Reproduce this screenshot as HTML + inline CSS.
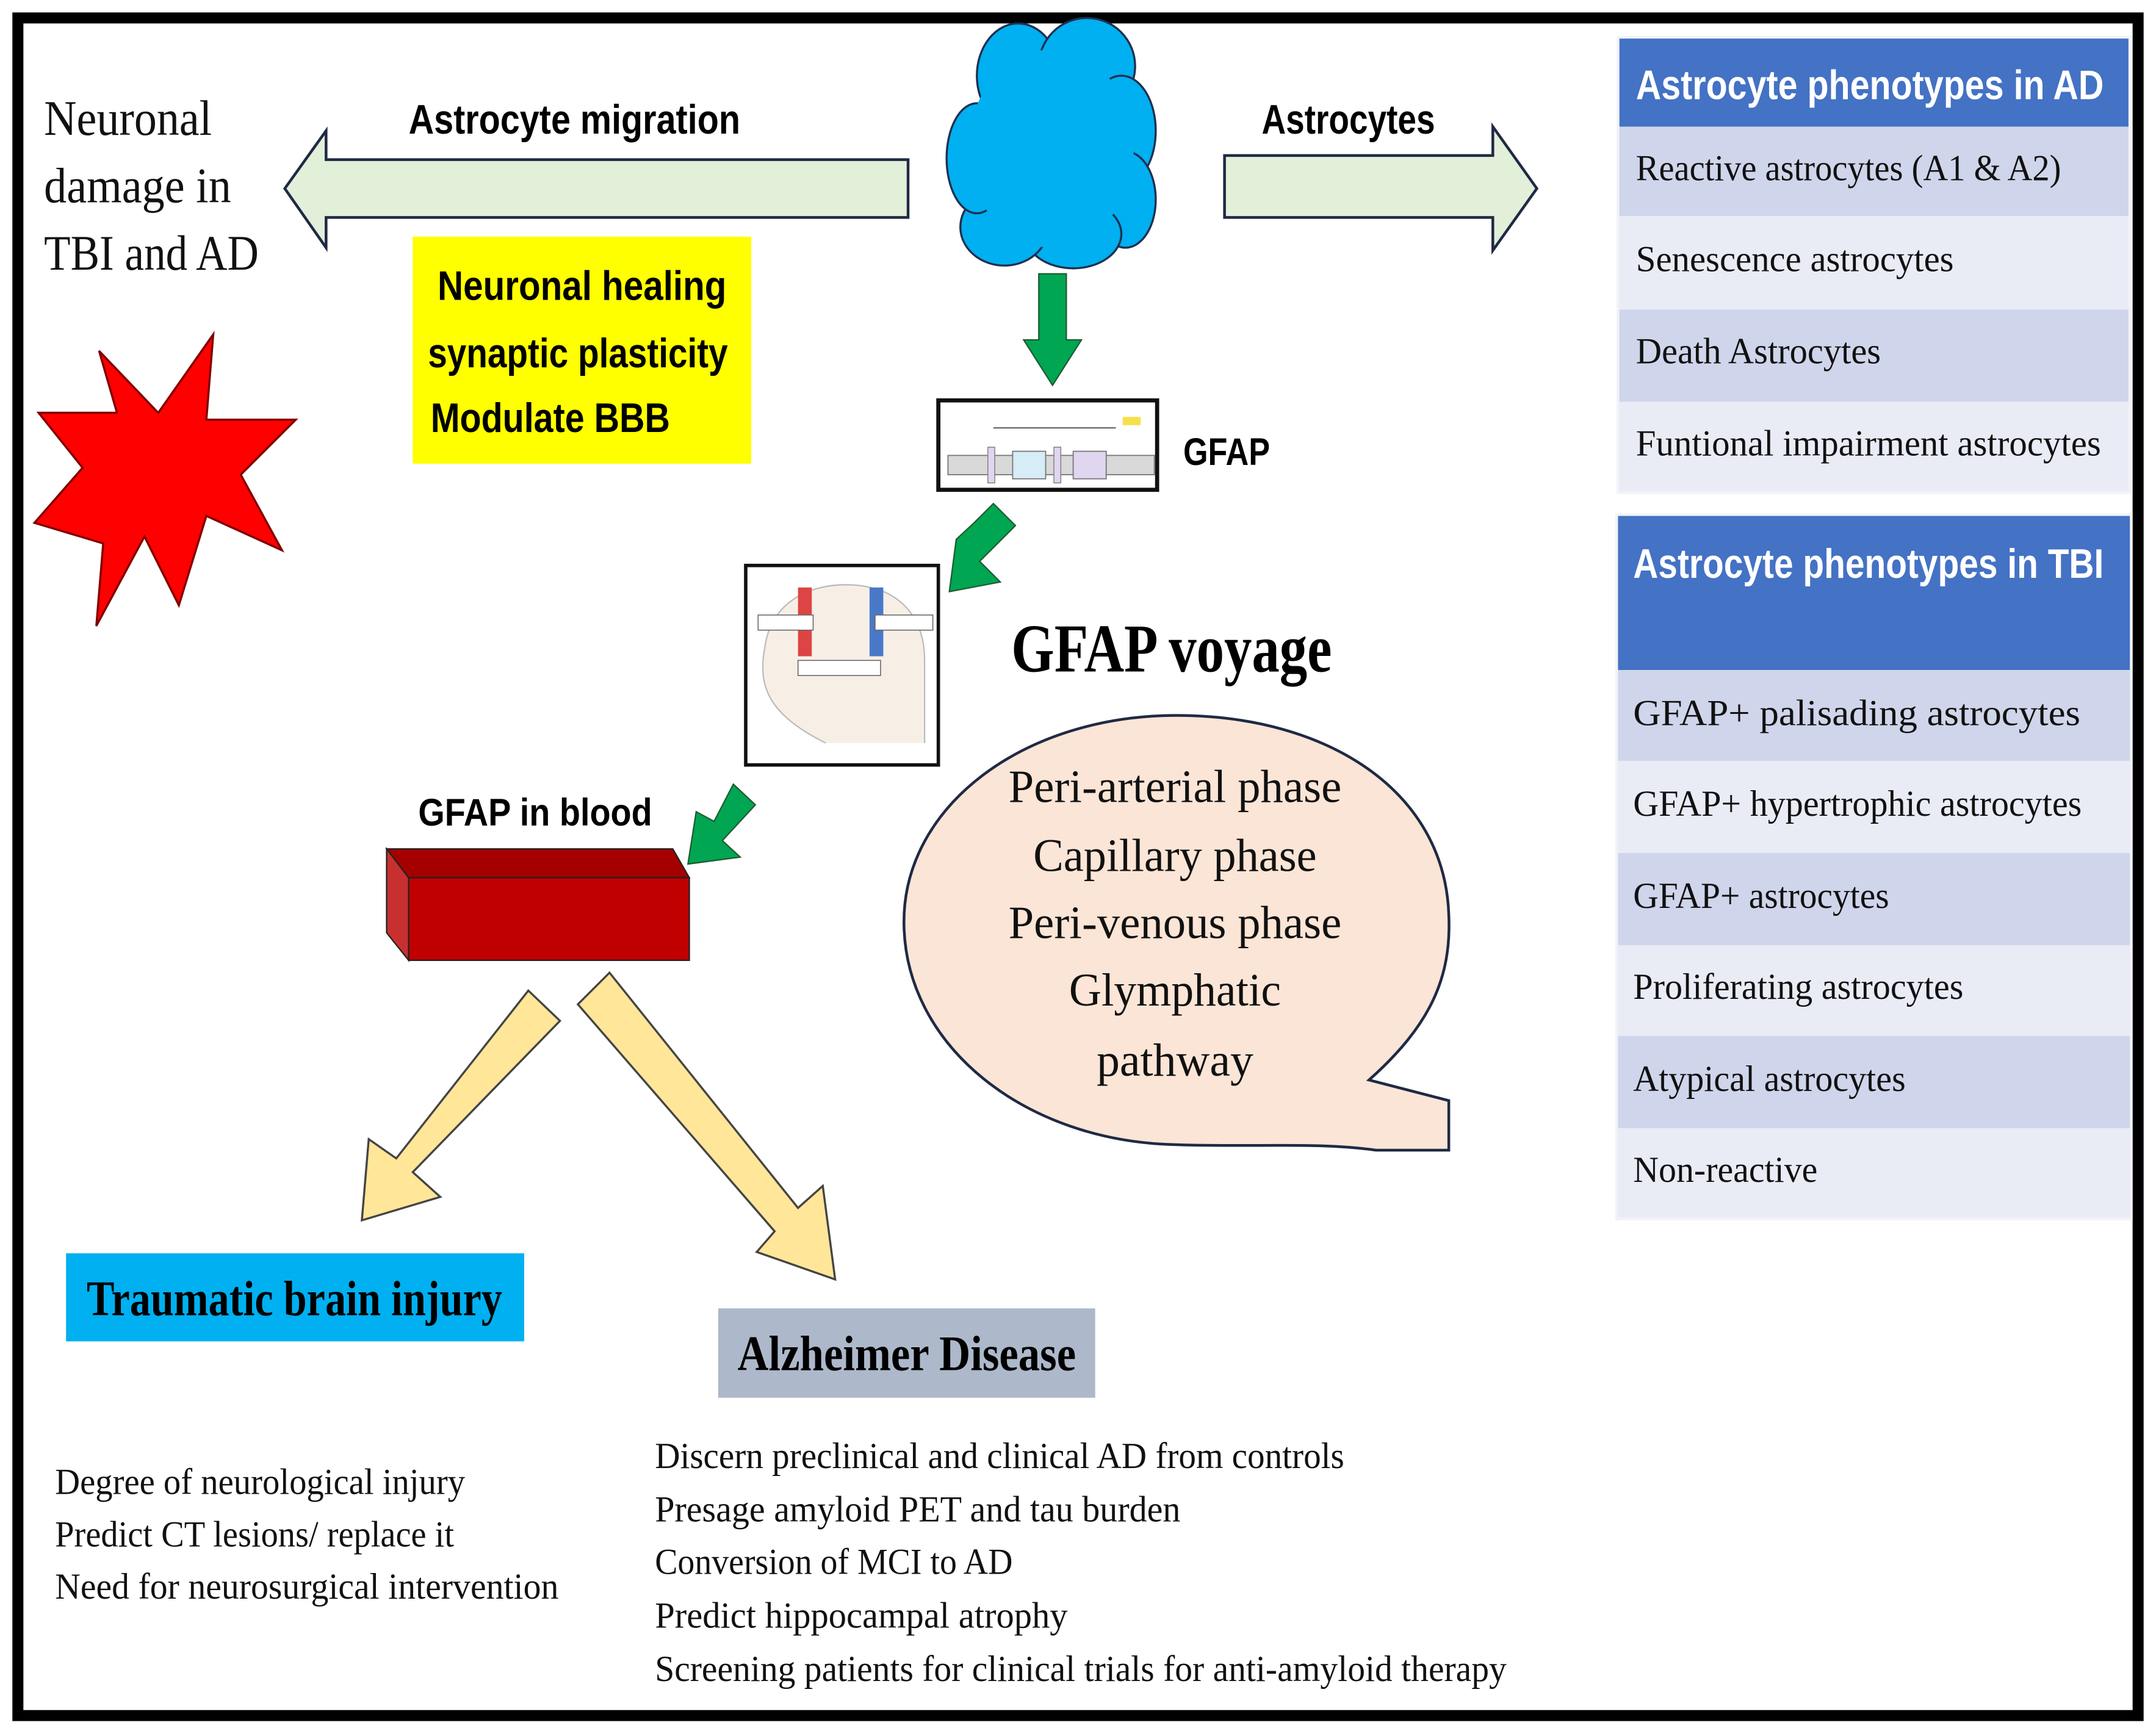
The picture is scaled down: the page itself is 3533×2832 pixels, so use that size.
<!DOCTYPE html>
<html><head><meta charset="utf-8"><style>
html,body{margin:0;padding:0;background:#fff;}
svg{display:block;}
text{font-family:"Liberation Serif",serif;}
.s{font-family:"Liberation Sans",sans-serif;font-weight:bold;}
</style></head><body>
<svg width="3533" height="2832" viewBox="0 0 1567 1256" xmlns="http://www.w3.org/2000/svg">
<rect x="0" y="0" width="1567" height="1256" fill="#fff"/>
<rect x="13" y="13" width="1541" height="1234" fill="none" stroke="#000" stroke-width="8"/>

<!-- left text -->
<g font-size="36" fill="#111">
<text x="32" y="98" textLength="122" lengthAdjust="spacingAndGlyphs">Neuronal</text>
<text x="32" y="147" textLength="136" lengthAdjust="spacingAndGlyphs">damage in</text>
<text x="32" y="196" textLength="156" lengthAdjust="spacingAndGlyphs">TBI and AD</text>
</g>

<!-- star -->
<polygon fill="#ff0000" stroke="#7f0000" stroke-width="1.5" points="155,243 150,305 215,305 175,345 205,400 150,375 130,440 105,390 70,455 75,395 25,380 60,340 28,300 85,300 72,255 115,300"/>

<!-- left arrow -->
<polygon fill="#e2efd9" stroke="#1f2a44" stroke-width="2" points="660,116 237,116 237,95 207,137 237,180 237,158 660,158"/>
<text class="s" x="297" y="97" font-size="30" textLength="241" lengthAdjust="spacingAndGlyphs">Astrocyte migration</text>

<!-- yellow box -->
<rect x="300" y="172" width="246" height="165" fill="#ffff00"/>
<g class="s" font-size="30" text-anchor="middle">
<text x="423" y="218" class="s" textLength="210" lengthAdjust="spacingAndGlyphs">Neuronal healing</text>
<text x="420" y="267" class="s" textLength="218" lengthAdjust="spacingAndGlyphs">synaptic plasticity</text>
<text x="400" y="314" class="s" textLength="174" lengthAdjust="spacingAndGlyphs">Modulate BBB</text>
</g>

<!-- cloud -->
<g fill="#00b0f0" stroke="#1f3050" stroke-width="1.5">
<ellipse cx="740" cy="55" rx="30" ry="38"/>
<ellipse cx="790" cy="48" rx="35" ry="35"/>
<ellipse cx="815" cy="95" rx="25" ry="40"/>
<ellipse cx="818" cy="145" rx="22" ry="35"/>
<ellipse cx="780" cy="170" rx="35" ry="25"/>
<ellipse cx="730" cy="165" rx="32" ry="28"/>
<ellipse cx="710" cy="115" rx="22" ry="40"/>
</g>
<ellipse cx="764" cy="108" rx="60" ry="72" fill="#00b0f0"/>

<!-- right arrow -->
<polygon fill="#e2efd9" stroke="#1f2a44" stroke-width="2" points="890,113 1085,113 1085,92 1117,137 1085,182 1085,158 890,158"/>
<text class="s" x="917" y="97" font-size="30" textLength="126" lengthAdjust="spacingAndGlyphs">Astrocytes</text>

<!-- green arrows -->
<polygon fill="#00a651" stroke="#1e5a30" stroke-width="1" points="755,199 775,199 775,247 786,247 765,280 744,247 755,247"/>
<polygon fill="#00a651" stroke="#1e5a30" stroke-width="1" points="722,366 738,382 712,408 727,423 690,430 695,392 708,380"/>
<polygon fill="#00a651" stroke="#1e5a30" stroke-width="1" points="533,570 549,585 525,611 538,623 500,628 506,590 519,597"/>

<!-- gene box -->
<rect x="682" y="291" width="159" height="65" fill="#fff" stroke="#111" stroke-width="3"/>
<line x1="722" y1="311" x2="811" y2="311" stroke="#666" stroke-width="1"/>
<rect x="836" y="303" width="13" height="6" fill="#f5e04a" transform="translate(-20,0)"/>
<rect x="689" y="331" width="150" height="14" fill="#d9d9d9" stroke="#777" stroke-width="0.8"/>
<rect x="736" y="328" width="24" height="20" fill="#d6ecf7" stroke="#777" stroke-width="0.8"/>
<rect x="780" y="328" width="24" height="20" fill="#e0d6f0" stroke="#777" stroke-width="0.8"/>
<rect x="718" y="325" width="5" height="26" fill="#e0d6f0" stroke="#777" stroke-width="0.6"/>
<rect x="766" y="325" width="5" height="26" fill="#e0d6f0" stroke="#777" stroke-width="0.6"/>
<text class="s" x="860" y="338" font-size="28" textLength="63" lengthAdjust="spacingAndGlyphs">GFAP</text>

<!-- head image -->
<rect x="542" y="411" width="140" height="145" fill="#fff" stroke="#111" stroke-width="2.5"/>
<path d="M600,540 C560,520 550,500 556,470 C560,440 585,425 615,425 C650,425 672,445 672,480 L672,540" fill="#f7efe6" stroke="#bbb" stroke-width="1"/>
<rect x="580" y="427" width="10" height="50" fill="#d44"/>
<rect x="632" y="427" width="10" height="50" fill="#4a78c8"/>
<rect x="551" y="447" width="40" height="11" fill="#fff" stroke="#666" stroke-width="0.7"/>
<rect x="636" y="447" width="42" height="11" fill="#fff" stroke="#666" stroke-width="0.7"/>
<rect x="580" y="480" width="60" height="11" fill="#fff" stroke="#666" stroke-width="0.7"/>

<!-- GFAP voyage -->
<text x="735" y="488" font-size="50" font-weight="bold" textLength="233" lengthAdjust="spacingAndGlyphs">GFAP voyage</text>

<!-- speech bubble -->
<path d="M1053,836 L1053,800 L995,785 C1040,745 1055,710 1053,665 C1050,575 965,520 855,520 C745,520 657,585 657,670 C657,760 745,830 855,832 C915,834 955,830 1000,836 Z" fill="#fbe5d6" stroke="#1f2a44" stroke-width="2"/>
<g font-size="34" text-anchor="middle" fill="#111">
<text x="854" y="583" textLength="242" lengthAdjust="spacingAndGlyphs">Peri-arterial phase</text>
<text x="854" y="633" textLength="206" lengthAdjust="spacingAndGlyphs">Capillary phase</text>
<text x="854" y="682" textLength="242" lengthAdjust="spacingAndGlyphs">Peri-venous phase</text>
<text x="854" y="731" textLength="154" lengthAdjust="spacingAndGlyphs">Glymphatic</text>
<text x="854" y="782" textLength="114" lengthAdjust="spacingAndGlyphs">pathway</text>
</g>

<!-- GFAP in blood -->
<text class="s" x="304" y="600" font-size="28" textLength="170" lengthAdjust="spacingAndGlyphs">GFAP in blood</text>
<polygon points="281,617 489,617 501,638 297,638" fill="#a50000" stroke="#222" stroke-width="1"/>
<polygon points="281,617 297,638 297,698 281,678" fill="#c83030" stroke="#222" stroke-width="1"/>
<rect x="297" y="638" width="204" height="60" fill="#c00000" stroke="#222" stroke-width="1"/>

<!-- yellow arrows -->
<polygon fill="#ffe699" stroke="#444" stroke-width="1.5" points="384,720 407,742 300,852 320,870 263,887 268,828 288,842"/>
<polygon fill="#ffe699" stroke="#444" stroke-width="1.5" points="420,730 443,707 580,878 598,862 607,930 550,910 563,895"/>

<!-- TBI box -->
<rect x="48" y="911" width="333" height="64" fill="#00b0f0"/>
<text x="214" y="956" font-size="36" font-weight="bold" text-anchor="middle" textLength="302" lengthAdjust="spacingAndGlyphs">Traumatic brain injury</text>
<rect x="522" y="951" width="274" height="65" fill="#adb9ca"/>
<text x="659" y="996" font-size="36" font-weight="bold" text-anchor="middle" textLength="246" lengthAdjust="spacingAndGlyphs">Alzheimer Disease</text>

<g font-size="27" fill="#111">
<text x="40" y="1086" textLength="298" lengthAdjust="spacingAndGlyphs">Degree of neurological injury</text>
<text x="40" y="1124" textLength="290" lengthAdjust="spacingAndGlyphs">Predict CT lesions/ replace it</text>
<text x="40" y="1162" textLength="366" lengthAdjust="spacingAndGlyphs">Need for neurosurgical intervention</text>
<text x="476" y="1067" textLength="501" lengthAdjust="spacingAndGlyphs">Discern preclinical and clinical AD from controls</text>
<text x="476" y="1106" textLength="382" lengthAdjust="spacingAndGlyphs">Presage amyloid PET and tau burden</text>
<text x="476" y="1144" textLength="260" lengthAdjust="spacingAndGlyphs">Conversion of MCI to AD</text>
<text x="476" y="1183" textLength="300" lengthAdjust="spacingAndGlyphs">Predict hippocampal atrophy</text>
<text x="476" y="1222" textLength="619" lengthAdjust="spacingAndGlyphs">Screening patients for clinical trials for anti-amyloid therapy</text>
</g>

<!-- right panel AD -->
<rect x="1175" y="26" width="374" height="333" fill="#f2f3f8"/>
<rect x="1177" y="28" width="370" height="64" fill="#4472c4"/>
<text class="s" x="1189" y="72" font-size="30" fill="#fff" font-weight="normal" textLength="340" lengthAdjust="spacingAndGlyphs">Astrocyte phenotypes in AD</text>
<rect x="1177" y="92" width="370" height="65" fill="#cfd5ea"/>
<rect x="1177" y="157" width="370" height="68" fill="#e9ebf5"/>
<rect x="1177" y="225" width="370" height="67" fill="#cfd5ea"/>
<rect x="1177" y="292" width="370" height="65" fill="#e9ebf5"/>
<g font-size="27" fill="#111">
<text x="1189" y="131" textLength="309" lengthAdjust="spacingAndGlyphs">Reactive astrocytes (A1 &amp; A2)</text>
<text x="1189" y="197" textLength="231" lengthAdjust="spacingAndGlyphs">Senescence astrocytes</text>
<text x="1189" y="264" textLength="178" lengthAdjust="spacingAndGlyphs">Death Astrocytes</text>
<text x="1189" y="331" textLength="338" lengthAdjust="spacingAndGlyphs">Funtional impairment astrocytes</text>
</g>

<!-- right panel TBI -->
<rect x="1174" y="373" width="376" height="514" fill="#f2f3f8"/>
<rect x="1176" y="375" width="372" height="112" fill="#4472c4"/>
<text class="s" x="1187" y="420" font-size="30" fill="#fff" font-weight="normal" textLength="342" lengthAdjust="spacingAndGlyphs">Astrocyte phenotypes in TBI</text>
<rect x="1176" y="487" width="372" height="66" fill="#cfd5ea"/>
<rect x="1176" y="553" width="372" height="67" fill="#e9ebf5"/>
<rect x="1176" y="620" width="372" height="67" fill="#cfd5ea"/>
<rect x="1176" y="687" width="372" height="66" fill="#e9ebf5"/>
<rect x="1176" y="753" width="372" height="67" fill="#cfd5ea"/>
<rect x="1176" y="820" width="372" height="65" fill="#e9ebf5"/>
<g font-size="27" fill="#111">
<text x="1187" y="527" textLength="325" lengthAdjust="spacingAndGlyphs">GFAP+ palisading astrocytes</text>
<text x="1187" y="593" textLength="326" lengthAdjust="spacingAndGlyphs">GFAP+ hypertrophic astrocytes</text>
<text x="1187" y="660" textLength="186" lengthAdjust="spacingAndGlyphs">GFAP+ astrocytes</text>
<text x="1187" y="726" textLength="240" lengthAdjust="spacingAndGlyphs">Proliferating astrocytes</text>
<text x="1187" y="793" textLength="198" lengthAdjust="spacingAndGlyphs">Atypical astrocytes</text>
<text x="1187" y="859" textLength="134" lengthAdjust="spacingAndGlyphs">Non-reactive</text>
</g>
</svg>
</body></html>
